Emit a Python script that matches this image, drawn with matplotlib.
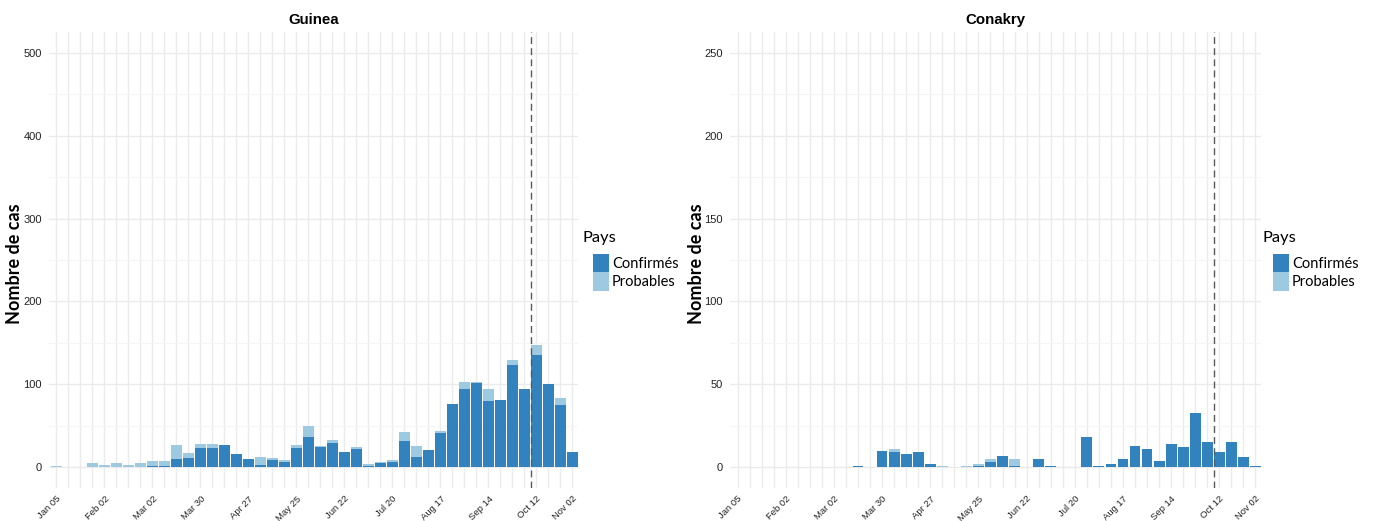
import numpy as np
import matplotlib
matplotlib.use("Agg")
import matplotlib.pyplot as plt
import matplotlib.transforms as mtransforms
from matplotlib.patches import Patch
import pandas as pd

# ---------------- data ----------------
week_start = "2014-01-05"
week_end = "2014-11-02"
tick_dates = ["2014-01-05", "2014-02-02", "2014-03-02", "2014-03-30", "2014-04-27",
              "2014-05-25", "2014-06-22", "2014-07-20", "2014-08-17", "2014-09-14",
              "2014-10-12", "2014-11-02"]
tick_labels = ["Jan 05", "Feb 02", "Mar 02", "Mar 30", "Apr 27", "May 25",
               "Jun 22", "Jul 20", "Aug 17", "Sep 14", "Oct 12", "Nov 02"]
marker_date = "2014-10-09"

guinea_confirmes = [0, 0, 0, 0, 0, 0, 0, 0, 1, 2, 10, 11, 23, 23, 27, 16, 10, 3, 9, 6,
                    23, 36, 24, 29, 18, 22, 2, 5, 6, 32, 12, 21, 41, 76, 94, 102, 80, 81,
                    123, 95, 136, 101, 75, 19]
guinea_probables = [1, 0, 0, 5, 3, 5, 3, 5, 7, 5, 17, 6, 5, 5, 0, 0, 0, 9, 2, 3,
                    4, 14, 2, 4, 1, 2, 2, 1, 3, 10, 14, 0, 3, 0, 9, 1, 14, 0,
                    6, 0, 11, 0, 9, 0]
conakry_confirmes = [0, 0, 0, 0, 0, 0, 0, 0, 0, 0, 1, 0, 10, 9, 8, 9, 2, 0, 0, 0,
                     1, 3, 7, 1, 0, 5, 1, 0, 0, 18, 1, 2, 5, 13, 11, 4, 14, 12,
                     33, 15, 9, 15, 6, 1]
conakry_probables = [0, 0, 0, 0, 0, 0, 0, 0, 0, 0, 0, 0, 0, 2, 0, 0, 0, 1, 0, 1,
                     1, 2, 0, 4, 0, 0, 0, 0, 0, 0, 0, 0, 0, 0, 0, 0, 0, 0,
                     0, 0, 0, 0, 0, 0]

panels = [("Guinea", guinea_confirmes, guinea_probables, 500, 100),
          ("Conakry", conakry_confirmes, conakry_probables, 250, 50)]

# ---------------- style ----------------
C_CONF = "#3182bd"
C_PROB = "#9ecae1"
GRID = "#ebebeb"
GRID_MINOR = "#f5f5f5"
W, H = 1374, 521

weeks = pd.date_range(week_start, week_end, freq="7D")
x = np.arange(len(weeks))
tick_pos = [int(np.where(weeks == pd.Timestamp(d))[0][0]) for d in tick_dates]
marker_pos = (pd.Timestamp(marker_date) - weeks[0]).days / 7.0

fig = plt.figure(figsize=(W / 100, H / 100), dpi=100)

axes_px = [(49, 578), (730, 1261)]
legend_px = [(583, 593), (1263, 1273)]
ylabel_px = [15, 696]
top_px, bot_px = 32, 488

for (title, conf, prob, ymax, ystep), (x0, x1), (lx_t, lx_h), ylx in zip(
        panels, axes_px, legend_px, ylabel_px):
    ax = fig.add_axes([x0 / W, (H - bot_px) / H, (x1 - x0) / W, (bot_px - top_px) / H])
    ax.set_axisbelow(True)
    conf = np.array(conf)
    prob = np.array(prob)
    ax.bar(x, conf, width=0.9, color=C_CONF, linewidth=0)
    ax.bar(x, prob, width=0.9, bottom=conf, color=C_PROB, linewidth=0)
    ax.axvline(marker_pos, color="#5a5a5a", linestyle=(0, (5, 3)), linewidth=1.0)

    ax.set_xlim(-0.625, len(weeks) - 1 + 0.46)
    pad = ymax * 0.05
    ax.set_ylim(-pad, ymax + pad)

    ax.set_yticks(np.arange(0, ymax + 1, ystep))
    ax.set_yticks(np.arange(ystep / 2, ymax, ystep), minor=True)
    ax.set_xticks(tick_pos)
    ax.set_xticks(x, minor=True)
    ax.set_xticklabels(tick_labels, rotation=45, ha="right", va="top",
                       rotation_mode="anchor", fontsize=6.8,
                       family=["Liberation Sans", "DejaVu Sans"], color="#222222")
    shift = mtransforms.ScaledTranslation(4 / 100, 0, fig.dpi_scale_trans)
    for lab in ax.get_xticklabels():
        lab.set_transform(lab.get_transform() + shift)
    for lab in ax.get_yticklabels():
        lab.set_fontsize(8)
        lab.set_family(["Liberation Sans", "DejaVu Sans"])
        lab.set_color("#222222")
    ax.tick_params(axis="both", which="both", length=0)
    ax.tick_params(axis="y", pad=5)
    ax.tick_params(axis="x", pad=4.5)

    ax.grid(True, axis="x", which="both", color=GRID, linewidth=1.0)
    ax.grid(True, axis="y", which="major", color=GRID, linewidth=1.0)
    ax.grid(True, axis="y", which="minor", color=GRID_MINOR, linewidth=0.8)
    for s in ax.spines.values():
        s.set_visible(False)

    ax.set_title(title, fontsize=10.8, fontweight="bold",
                 family=["Liberation Sans", "DejaVu Sans"], pad=6)
    fig.text(ylx / W, 1 - 264 / H, "Nombre de cas", rotation=90, ha="center", va="center",
             fontsize=13, fontweight="bold", family=["Lato", "DejaVu Sans"])

    # legend
    fig.text(lx_t / W, 1 - 238 / H, "Pays", ha="left", va="center",
             fontsize=11.8, family=["Lato", "DejaVu Sans"])
    handles = [Patch(facecolor=C_CONF, edgecolor="none", label="Confirmés"),
               Patch(facecolor=C_PROB, edgecolor="none", label="Probables")]
    leg = fig.legend(handles=handles, loc="upper left",
                     bbox_to_anchor=(lx_h / W, 1 - 254 / H),
                     frameon=False, handlelength=1.1, handleheight=1.55,
                     handletextpad=0.2, labelspacing=0.0, borderpad=0, borderaxespad=0,
                     prop={"family": ["Lato", "DejaVu Sans"], "size": 10.5})

fig.savefig("out.png", dpi=100, facecolor="white")
